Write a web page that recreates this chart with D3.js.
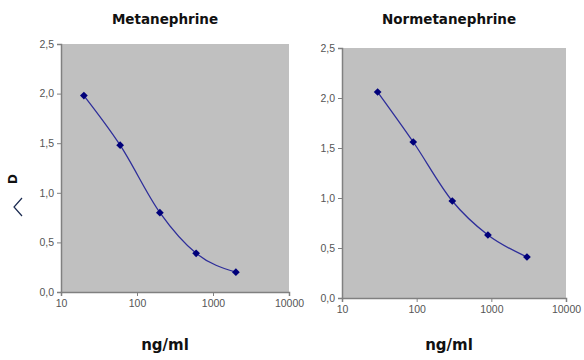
<!DOCTYPE html>
<html><head><meta charset="utf-8">
<script src="https://cdn.jsdelivr.net/npm/d3@7"></script>
<style>body{margin:0;background:#fff}svg{display:block}</style>
</head><body>
<svg id="c" width="584" height="360"></svg>
<script>
const titles = ["Metanephrine", "Normetanephrine"];
const metaConc = [20, 60, 200, 600, 2000];
const metaD = [1.98, 1.48, 0.80, 0.39, 0.20];
const normConc = [30, 90, 300, 900, 3000];
const normD = [2.06, 1.56, 0.97, 0.63, 0.41];
const xTicks = [10, 100, 1000, 10000];
const yTicks = [0, 0.5, 1.0, 1.5, 2.0, 2.5];
const xLabel = "ng/ml";
const yLabel = "D";

const svg = d3.select("#c");
const panels = [
  {title: titles[0], xs: metaConc, ys: metaD, l: 61, r: 289, t: 44, b: 292, cx: 165},
  {title: titles[1], xs: normConc, ys: normD, l: 342, r: 566, t: 48, b: 298, cx: 449}
];
const fmt = d => d.toFixed(1).replace(".", ",");

panels.forEach(p => {
  const x = d3.scaleLog().domain([10, 10000]).range([p.l, p.r]);
  const y = d3.scaleLinear().domain([0, 2.5]).range([p.b, p.t]);
  const g = svg.append("g");
  g.append("rect").attr("x", p.l).attr("y", p.t).attr("width", p.r - p.l).attr("height", p.b - p.t).attr("fill", "#c0c0c0");
  const ya = g.append("g").attr("transform", `translate(${p.l},0)`)
    .call(d3.axisLeft(y).tickValues(yTicks).tickFormat(fmt).tickSize(4).tickPadding(3));
  const xa = g.append("g").attr("transform", `translate(0,${p.b})`)
    .call(d3.axisBottom(x).tickValues(xTicks).tickFormat(d3.format("d")).tickSize(4).tickPadding(4));
  [ya, xa].forEach(a => {
    a.selectAll("path").attr("stroke", "#808080").attr("stroke-width", 1.5);
    a.selectAll("line").attr("stroke", "#808080");
    a.selectAll("text").attr("fill", "#555").attr("font-family", "Liberation Sans, Arial, sans-serif").attr("font-size", 10.5);
  });
  const pts = p.xs.map((v, i) => [x(v), y(p.ys[i])]);
  g.append("path").attr("d", d3.line().curve(d3.curveMonotoneX)(pts))
    .attr("fill", "none").attr("stroke", "#2e2e9a").attr("stroke-width", 1.3);
  g.selectAll(".m").data(pts).enter().append("path")
    .attr("transform", d => `translate(${d[0]},${d[1]}) rotate(45)`)
    .attr("d", d3.symbol().type(d3.symbolSquare).size(30)).attr("fill", "#00007a");
  g.append("text").attr("x", p.cx).attr("y", 24).attr("text-anchor", "middle")
    .attr("font-family", "DejaVu Sans, Verdana, sans-serif").attr("font-weight", "bold").attr("font-size", 13.5)
    .attr("fill", "#111").text(p.title);
  g.append("text").attr("x", p.cx).attr("y", 350).attr("text-anchor", "middle")
    .attr("font-family", "DejaVu Sans, Verdana, sans-serif").attr("font-weight", "bold").attr("font-size", 15)
    .attr("fill", "#111").text(xLabel);
});

svg.append("text").attr("transform", "translate(17,179) rotate(-90)").attr("text-anchor", "middle")
  .attr("font-family", "DejaVu Sans, Verdana, sans-serif").attr("font-weight", "bold").attr("font-size", 12)
  .attr("fill", "#111").text(yLabel);
svg.append("path").attr("d", "M22,198 L14,207 L22,216").attr("fill", "none").attr("stroke", "#1a2a50").attr("stroke-width", 1.2);
</script>
</body></html>
